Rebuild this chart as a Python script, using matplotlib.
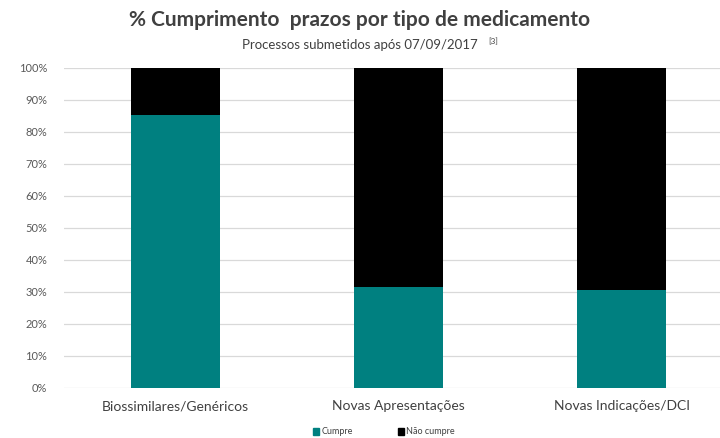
import matplotlib
matplotlib.use('Agg')
import numpy as np
import matplotlib.pyplot as plt
from matplotlib.patches import Patch

# dados
categorias = ['Biossimilares/Genéricos', 'Novas Apresentações', 'Novas Indicações/DCI']
cumpre = [0.853, 0.317, 0.306]
nao_cumpre = [1 - v for v in cumpre]
yticks = np.arange(0, 1.01, 0.1)
ytick_labels = ['{}%'.format(int(round(v * 100))) for v in yticks]

plt.rcParams['font.family'] = ['Lato', 'DejaVu Sans']

fig = plt.figure(figsize=(7.2, 4.38), dpi=100)
ax = fig.add_axes([64 / 720, 1 - 388 / 438, 1 - 64 / 720, 320 / 438])

x = np.arange(len(categorias))
ax.bar(x, cumpre, width=0.4, color='#008080', zorder=3)
ax.bar(x, nao_cumpre, width=0.4, bottom=cumpre, color='#000000', zorder=3)

ax.set_xlim(-0.5, 2.44)
ax.set_ylim(0, 1)
ax.set_yticks(yticks)
ax.set_yticklabels(ytick_labels, fontsize=8, color='#595959')
ax.set_xticks(x)
ax.set_xticklabels(categorias, fontsize=10, color='#404040')
ax.tick_params(length=0)
ax.tick_params(axis='y', pad=12)
ax.tick_params(axis='x', pad=9)
ax.grid(axis='y', color='#d9d9d9', linewidth=0.9, zorder=0)
for s in ax.spines.values():
    s.set_visible(False)

fig.text(0.5, 1 - 20 / 438, '% Cumprimento  prazos por tipo de medicamento',
         ha='center', va='center', fontsize=15, fontweight='bold', color='#404040')
fig.text(0.5, 1 - 45 / 438, 'Processos submetidos após 07/09/2017', ha='center', va='center',
         fontsize=9.5, color='#404040')
fig.text(488 / 720, 1 - 42 / 438, '[3]', ha='left', va='center', fontsize=6, color='#404040')

handles = [Patch(color='#008080', label='Cumpre'), Patch(color='#000000', label='Não cumpre')]
fig.legend(handles=handles, loc='center', bbox_to_anchor=(0.533, 1 - 432 / 438), ncol=2,
           frameon=False, fontsize=6.5, handlelength=0.7, handleheight=0.7,
           handletextpad=0.2, columnspacing=5, labelcolor='#404040')

fig.savefig('out.png', dpi=100)
